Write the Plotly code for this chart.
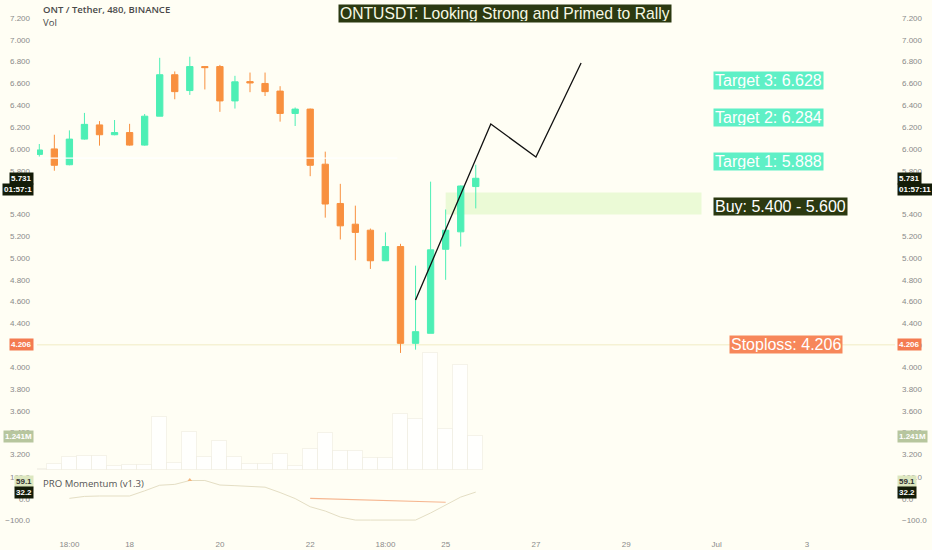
import pandas as pd
import plotly.graph_objects as go

# ONT/USDT 8h candles (Binance)
times = pd.date_range("2018-06-16 02:00", periods=30, freq="8h")
opens = [5.95, 6.00, 5.855, 6.09, 6.22, 6.13, 6.15, 6.035, 6.30, 6.68,
         6.535, 6.755, 6.755, 6.44, 6.617, 6.60, 6.53, 6.325, 6.365, 5.86,
         5.50, 5.31, 5.255, 4.975, 5.105, 4.218, 4.31, 5.08, 5.24, 5.655]
highs = [6.045, 6.13, 6.17, 6.33, 6.255, 6.265, 6.23, 6.32, 6.835, 6.71,
         6.845, 6.76, 6.77, 6.67, 6.70, 6.70, 6.575, 6.38, 6.37, 5.975,
         5.68, 5.48, 5.27, 5.235, 5.13, 4.93, 5.70, 5.445, 5.665, 5.855]
lows = [5.93, 5.80, 5.85, 6.085, 6.03, 6.125, 6.03, 6.03, 6.30, 6.455,
        6.495, 6.545, 6.34, 6.37, 6.52, 6.485, 6.25, 6.21, 5.75, 5.37,
        5.17, 4.98, 4.90, 4.975, 4.13, 4.16, 4.31, 4.80, 5.105, 5.455]
closes = [5.99, 5.85, 6.09, 6.225, 6.13, 6.15, 6.035, 6.30, 6.68, 6.525,
          6.755, 6.745, 6.44, 6.615, 6.605, 6.525, 6.325, 6.365, 5.85, 5.495,
          5.295, 5.235, 4.975, 5.105, 4.218, 4.325, 5.075, 5.255, 5.66, 5.731]
volumes = [0.05, 0.22, 0.47, 0.51, 0.51, 0.15, 0.18, 0.18, 1.93, 0.26,
           1.39, 0.47, 1.06, 0.47, 0.22, 0.22, 0.58, 0.15, 0.77, 1.35,
           0.69, 0.69, 0.44, 0.44, 2.04, 1.86, 4.27, 1.50, 3.83, 1.241]  # M
momentum = [None, None, 3, 12, 14, 14, 14, 38, 64, 68,
            86, 86, 65, 62, 60, 55, 30, 2, -36, -56,
            -84, -98, -98, -98, -98, -98, -65, -28, 9, 32.2]
signal_idx = [18, 27]
signal_vals = [3, -15]
peak_idx = [10]
peak_vals = [88]

# projected path (candle index, price)
proj_idx = [25, 30, 33, 36]
proj_price = [4.615, 6.228, 5.926, 6.788]

buy_zone = [5.400, 5.600]
buy_zone_idx = [27, 44]
targets = [5.888, 6.284, 6.628]
stoploss = 4.206
last_price = 5.731
last_volume = 1.241
countdown = "01:57:11"
mom_tags = [59.1, 32.2]

tick_times = ["2018-06-16 18:00", "2018-06-18 02:00", "2018-06-20 02:00", "2018-06-22 02:00",
              "2018-06-23 18:00", "2018-06-25 02:00", "2018-06-27 02:00", "2018-06-29 02:00",
              "2018-07-01 02:00", "2018-07-03 02:00"]
tick_text = ["18:00", "18", "20", "22", "18:00", "25", "27", "29", "Jul", "3"]

BG = "#fffef4"
TEAL = "#4defb5"
ORANGE = "#f8903f"
DARK = "#2b3910"
FONT = "Liberation Sans, Arial, sans-serif"
TICK = dict(family=FONT, size=8, color="#8a8a8a")


def at(i):
    return times[0] + pd.Timedelta(hours=8 * i)


fig = go.Figure()

# volume on the base axis so it sits behind the candles
fig.add_trace(go.Bar(x=times, y=volumes, yaxis="y",
                     marker=dict(color="rgba(255,255,255,0.8)",
                                 line=dict(color="rgba(236,234,220,0.55)", width=1)),
                     hoverinfo="skip"))

fig.add_trace(go.Candlestick(
    x=times, open=opens, high=highs, low=lows, close=closes, yaxis="y2",
    increasing=dict(line=dict(color=TEAL, width=1), fillcolor=TEAL),
    decreasing=dict(line=dict(color=ORANGE, width=1), fillcolor=ORANGE),
))

fig.add_trace(go.Scatter(x=[at(i) for i in proj_idx], y=proj_price, yaxis="y2",
                         mode="lines", line=dict(color="#111111", width=1.3), hoverinfo="skip"))

fig.add_trace(go.Scatter(x=[times[-1]], y=[last_price], yaxis="y3", mode="markers",
                         marker=dict(opacity=0), hoverinfo="skip"))

# momentum pane
fig.add_trace(go.Scatter(x=times, y=momentum, yaxis="y4", mode="lines",
                         line=dict(color="#e4dec4", width=1), hoverinfo="skip"))
fig.add_trace(go.Scatter(x=[at(i) for i in signal_idx], y=signal_vals, yaxis="y4", mode="lines",
                         line=dict(color="#f6b690", width=1.2), hoverinfo="skip"))
fig.add_trace(go.Scatter(x=[at(i) for i in peak_idx], y=peak_vals, yaxis="y4", mode="markers",
                         marker=dict(color="#f3b57c", size=4, symbol="triangle-up"), hoverinfo="skip"))
fig.add_trace(go.Scatter(x=[times[-1]], y=[0], yaxis="y5", mode="markers",
                         marker=dict(opacity=0), hoverinfo="skip"))

# pixel layout of the TradingView pane
px_per_hour = 15.05 / 8
first_px, left_px, right_px = 39.3, 37, 895
bottom_px = 538
x_range = [times[0] - pd.Timedelta(hours=(first_px - left_px) / px_per_hour),
           times[0] + pd.Timedelta(hours=(right_px - first_px) / px_per_hour)]
price_range = [3.057, 7.365]
vol_range = [0, 470 * last_volume / 34]
mom_range = [-(bottom_px - 499) / 0.215, 134.9]
split = (bottom_px - 470) / bottom_px


def py(y_px):
    return (bottom_px - y_px) / bottom_px


def px(x_px):
    return (x_px - left_px) / (right_px - left_px)


price_axis = dict(range=price_range, domain=[split, 1], dtick=0.2, tick0=0, tickformat=".3f",
                  showgrid=False, zeroline=False, showline=False, ticks="", automargin=False,
                  tickfont=TICK, ticklabelstandoff=6, overlaying="y", fixedrange=True)
mom_axis = dict(range=mom_range, tickvals=[-100, 0, 100], tickformat=".1f",
                showgrid=False, zeroline=False, showline=False, ticks="", automargin=False,
                tickfont=TICK, ticklabelstandoff=6)

fig.update_layout(
    width=932, height=550,
    margin=dict(l=left_px, r=932 - right_px, t=0, b=550 - bottom_px),
    paper_bgcolor=BG, plot_bgcolor=BG,
    showlegend=False, bargap=0, boxgap=0.4,
    xaxis=dict(range=x_range, anchor="y4", tickvals=pd.to_datetime(tick_times), ticktext=tick_text,
               showgrid=False, zeroline=False, showline=False, ticks="", tickfont=TICK,
               automargin=False, rangeslider=dict(visible=False)),
    yaxis=dict(range=vol_range, domain=[split, 1], visible=False, automargin=False),
    yaxis2=dict(price_axis, side="left"),
    yaxis3=dict(price_axis, side="right"),
    yaxis4=dict(mom_axis, domain=[0, split], side="left", anchor="x"),
    yaxis5=dict(mom_axis, overlaying="y4", side="right"),
)

# buy zone and level lines
fig.add_shape(type="rect", xref="x", yref="y2", x0=at(buy_zone_idx[0]), x1=at(buy_zone_idx[1]),
              y0=buy_zone[0], y1=buy_zone[1], fillcolor="#ebfad6", line=dict(width=0), layer="below")
fig.add_shape(type="line", xref="paper", yref="y2", x0=0, x1=1, y0=stoploss, y1=stoploss,
              line=dict(color="#f6f2d4", width=1.5), layer="below")
fig.add_shape(type="line", xref="paper", yref="y2", x0=0, x1=0.42, y0=5.915, y1=5.915,
              line=dict(color="white", width=1.2), layer="above")


def box(text, x, y, bg, fg="white", xref="x", yref="y2", xanchor="left", size=16, xshift=0, yshift=0):
    fig.add_annotation(text=text, x=x, y=y, xref=xref, yref=yref, xanchor=xanchor, yanchor="middle",
                       xshift=xshift, yshift=yshift, showarrow=False, bgcolor=bg, borderpad=1,
                       height=15, font=dict(family=FONT, size=size, color=fg))


box("ONTUSDT: Looking Strong and Primed to Rally", px(505), py(14),
    DARK, fg="#f6f8e4", xref="paper", yref="paper", xanchor="center", size=15.7)
for i, t in enumerate(targets):
    box(f"Target {i + 1}: {t:.3f}", at(45), t, "#5ff0c6", xshift=-4)
box(f"Buy: {buy_zone[0]:.3f} - {buy_zone[1]:.3f}", at(45), sum(buy_zone) / 2, DARK, xshift=-4, yshift=-3)
box(f"Stoploss: {stoploss:.3f}", at(46), stoploss, "#f7875a", xshift=-3)


def tag(text, y, yref, bg, fg="white", yshift=0, left_text=None):
    for side in ("left", "right"):
        fig.add_annotation(text=left_text if (side == "left" and left_text) else text,
                           xref="paper", x=0 if side == "left" else 1,
                           xanchor="right" if side == "left" else "left",
                           xshift=-3 if side == "left" else 2,
                           y=y, yref=yref, yshift=yshift, yanchor="middle", showarrow=False,
                           bgcolor=bg, borderpad=1,
                           font=dict(family=FONT, size=8, color=fg, weight="bold"))


tag(f"{last_price:.3f}", last_price, "y2", "#141c08")
tag(countdown, last_price, "y2", "#141c08", yshift=-11, left_text=countdown[:-1])
tag(f"{stoploss:.3f}", stoploss, "y2", "#f47b50")
tag(f"{last_volume:.3f}M", last_volume, "y", "#b7c69e")
tag(f"{mom_tags[0]:.1f}", mom_tags[0], "y4", "#dde7bf", fg="#333333", yshift=5)
tag(f"{mom_tags[1]:.1f}", mom_tags[1], "y4", "#141c08")

# pane captions
fig.add_annotation(text="ONT / Tether, 480, BINANCE", xref="paper", yref="paper", x=0, xshift=4,
                   y=py(10), xanchor="left", yanchor="middle", showarrow=False,
                   font=dict(family="Open Sans", size=9.5, color="#4a4a4a", weight=600))
fig.add_annotation(text="Vol", xref="paper", yref="paper", x=0, xshift=4,
                   y=py(22), xanchor="left", yanchor="middle", showarrow=False,
                   font=dict(family="Open Sans", size=9.5, color="#4a4a4a"))
fig.add_annotation(text="PRO Momentum (v1.3)", xref="paper", yref="paper", x=0, xshift=4,
                   y=py(483), xanchor="left", yanchor="middle", showarrow=False,
                   font=dict(family="Open Sans", size=9.6, color="#555555"))

# the page's default body margin would shift the 932x550 figure off the window
fig.write_html("out.html", config={"displayModeBar": False},
               post_script="document.body.style.margin = '0';")
